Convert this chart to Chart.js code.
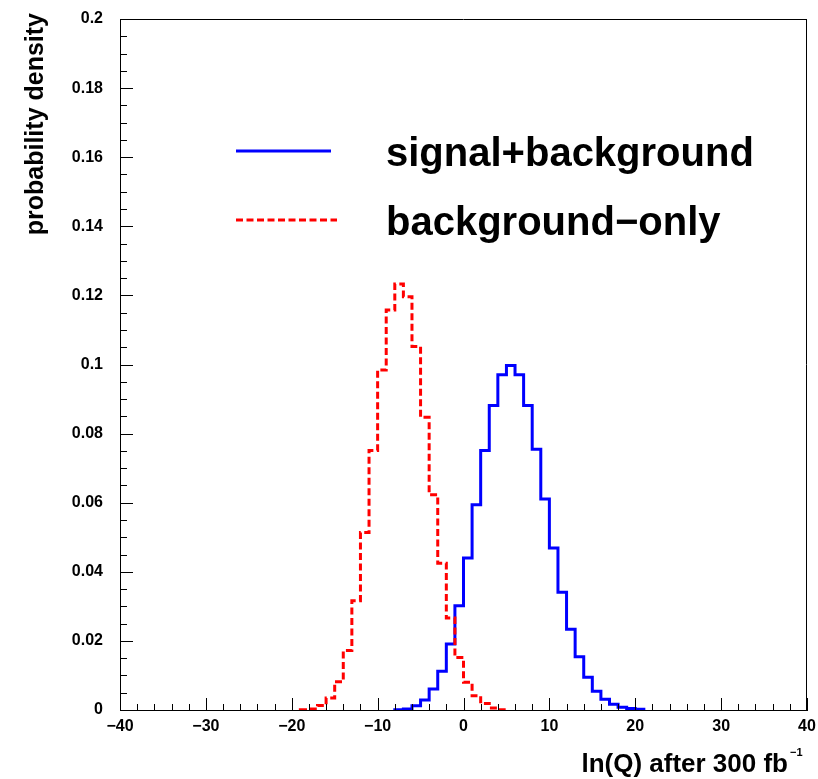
<!DOCTYPE html>
<html>
<head>
<meta charset="utf-8">
<script src="https://cdn.jsdelivr.net/npm/chart.js@4/dist/chart.umd.min.js"></script>
<style>
  html, body { margin: 0; padding: 0; background: #ffffff; }
  canvas { display: block; }
</style>
</head>
<body>
<canvas id="c" width="818" height="779"></canvas>
<script>
// ---- data ----
const seriesNames = ['signal+background', 'background\u2212only'];

// lower edges of 1-unit-wide bins
const sbBinLow = [-8,-7,-6,-5,-4,-3,-2,-1,0,1,2,3,4,5,6,7,8,9,10,11,12,13,14,15,16,17,18,19,20];
const sbValues = [0.0001,0.0003,0.0012,0.0029,0.0061,0.0112,0.0191,0.0302,0.0440,0.0594,
                  0.0751,0.0881,0.0970,0.0997,0.0970,0.0881,0.0755,0.0611,0.0469,0.0341,
                  0.0234,0.0154,0.0095,0.0054,0.0031,0.0017,0.0008,0.0004,0.0002];

const bBinLow = [-19,-18,-17,-16,-15,-14,-13,-12,-11,-10,-9,-8,-7,-6,-5,-4,-3,-2,-1,0,1,2,3,4];
const bValues = [0.0001,0.0003,0.0013,0.0035,0.0082,0.0172,0.0316,0.0514,0.0751,0.0984,
                 0.1158,0.1233,0.1196,0.1052,0.0847,0.0623,0.0425,0.0266,0.0152,0.0080,
                 0.0041,0.0019,0.0006,0.0001];
const binWidth = 1;

const xMin = -40, xMax = 40, xMajor = 10, xMinor = 2;
const yMin = 0, yMax = 0.2, yMajor = 0.02, yMinor = 0.005;

const xTitle = 'ln(Q) after 300 fb';
const xTitleSup = '\u22121';
const yTitle = 'probability density';

// ---- build histogram outlines (step-before; points at bin low edges, closing at last high edge) ----
function histPoints(lows, vals) {
  const pts = [{x: lows[0], y: 0}];
  for (let i = 0; i < lows.length; i++) pts.push({x: lows[i], y: vals[i]});
  pts.push({x: lows[lows.length - 1] + binWidth, y: 0});
  return pts;
}

const FONT = '"Liberation Sans", Arial, Helvetica, sans-serif';

const frameAndTicks = {
  id: 'frameAndTicks',
  afterDraw(chart) {
    const ctx = chart.ctx;
    const a = chart.chartArea;
    const xs = chart.scales.x, ys = chart.scales.y;
    ctx.save();
    ctx.strokeStyle = '#000';
    ctx.lineWidth = 1;
    // top & right frame
    ctx.beginPath();
    ctx.moveTo(a.left, a.top + 0.5); ctx.lineTo(a.right, a.top + 0.5);
    ctx.moveTo(a.right - 0.5, a.top); ctx.lineTo(a.right - 0.5, a.bottom);
    ctx.stroke();
    // x ticks (inside)
    ctx.beginPath();
    for (let v = xMin; v <= xMax + 1e-9; v += xMinor) {
      const px = Math.round(xs.getPixelForValue(v)) + 0.5;
      const major = Math.abs(v / xMajor - Math.round(v / xMajor)) < 1e-6;
      const len = major ? 12 : 6;
      ctx.moveTo(px, a.bottom); ctx.lineTo(px, a.bottom - len);
    }
    // y ticks (inside)
    const n = Math.round((yMax - yMin) / yMinor);
    for (let i = 0; i <= n; i++) {
      const v = yMin + i * yMinor;
      const py = Math.round(ys.getPixelForValue(v)) + 0.5;
      const major = i % Math.round(yMajor / yMinor) === 0;
      const len = major ? 13 : 7;
      ctx.moveTo(a.left, py); ctx.lineTo(a.left + len, py);
    }
    ctx.stroke();

    // axis titles
    ctx.fillStyle = '#000';
    ctx.font = 'bold 26px ' + FONT;
    ctx.textAlign = 'right';
    ctx.textBaseline = 'alphabetic';
    ctx.fillText(xTitle, 788, 772);
    ctx.font = 'bold 11px ' + FONT;
    ctx.textAlign = 'left';
    ctx.fillText(xTitleSup, 790, 756);

    ctx.save();
    ctx.translate(43, 13);
    ctx.rotate(-Math.PI / 2);
    ctx.font = 'bold 25px ' + FONT;
    ctx.textAlign = 'right';
    ctx.textBaseline = 'alphabetic';
    ctx.fillText(yTitle, 0, 0);
    ctx.restore();

    // legend
    const items = [chart.data.datasets[1], chart.data.datasets[0]];
    const lineY = [151, 220];
    const textY = [166, 235];
    const lineEnd = [331, 337];
    items.forEach((ds, i) => {
      ctx.save();
      ctx.strokeStyle = ds.borderColor;
      ctx.lineWidth = ds.borderWidth;
      ctx.setLineDash(ds.borderDash || []);
      ctx.beginPath();
      ctx.moveTo(236, lineY[i]); ctx.lineTo(lineEnd[i], lineY[i]);
      ctx.stroke();
      ctx.restore();
      ctx.fillStyle = '#000';
      ctx.font = 'bold 40px ' + FONT;
      ctx.textAlign = 'left';
      ctx.textBaseline = 'alphabetic';
      ctx.fillText(ds.label, 386, textY[i]);
    });
    ctx.restore();
  }
};

new Chart(document.getElementById('c'), {
  type: 'line',
  data: {
    datasets: [
      {
        label: seriesNames[1],
        data: histPoints(bBinLow, bValues),
        borderColor: '#ff0000',
        borderWidth: 3,
        borderDash: [7, 3.5],
        borderCapStyle: 'butt',
        stepped: 'before',
        pointRadius: 0,
        fill: false,
        tension: 0
      },
      {
        label: seriesNames[0],
        data: histPoints(sbBinLow, sbValues),
        borderColor: '#0000ff',
        borderWidth: 3,
        stepped: 'before',
        pointRadius: 0,
        fill: false,
        tension: 0
      }
    ]
  },
  options: {
    responsive: false,
    maintainAspectRatio: false,
    animation: false,
    events: [],
    layout: { padding: { top: 19, right: 11, left: 0, bottom: 0 } },
    plugins: { legend: { display: false }, tooltip: { enabled: false }, title: { display: false } },
    scales: {
      x: {
        type: 'linear',
        min: xMin, max: xMax,
        grid: { display: false, drawTicks: false },
        border: { display: true, color: '#000', width: 1 },
        ticks: {
          stepSize: xMajor,
          color: '#000',
          padding: 7,
          maxRotation: 0,
          autoSkip: false,
          font: { family: FONT, size: 16, weight: 'bold' },
          callback: v => (v < 0 ? '\u2212' + Math.abs(v) : String(v))
        },
        afterFit: s => { s.height = 69; s.paddingLeft = 0; s.paddingRight = 0; }
      },
      y: {
        type: 'linear',
        min: yMin, max: yMax,
        grid: { display: false, drawTicks: false },
        border: { display: true, color: '#000', width: 1 },
        ticks: {
          stepSize: yMajor,
          color: '#000',
          padding: 17,
          autoSkip: false,
          font: { family: FONT, size: 16, weight: 'bold' },
          callback: v => String(+(+v).toFixed(3))
        },
        afterFit: s => { s.width = 120; s.paddingTop = 0; s.paddingBottom = 0; }
      }
    }
  },
  plugins: [frameAndTicks]
});
</script>
</body>
</html>
